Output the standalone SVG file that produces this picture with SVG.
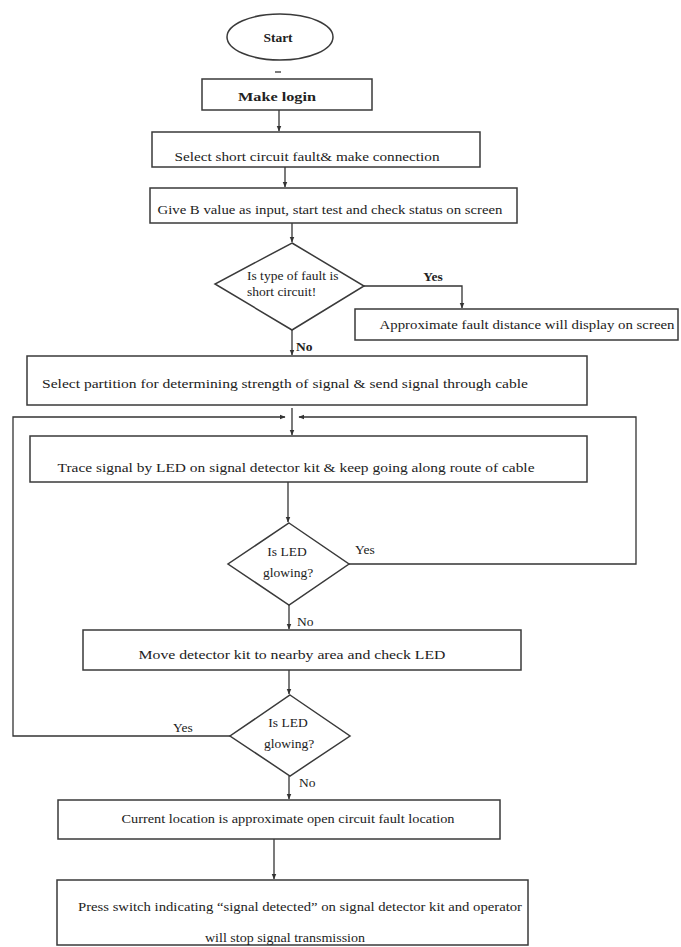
<svg xmlns="http://www.w3.org/2000/svg" width="681" height="947" viewBox="0 0 681 947">
<defs>
<style>
.n{fill:#fff;stroke:#3a3a3a;stroke-width:1.5}
.c{fill:none;stroke:#333;stroke-width:1.3}
.t{font-family:"Liberation Serif","Times New Roman",serif;fill:#222;font-size:13.5px}
.m{text-anchor:middle}
.b{font-weight:bold}
</style>
<marker id="ah" viewBox="0 0 10 10" refX="9" refY="5" markerWidth="6" markerHeight="6" orient="auto" markerUnits="userSpaceOnUse">
<path d="M0,1 L10,5 L0,9 z" fill="#333"/>
</marker>
</defs>
<rect width="681" height="947" fill="#fff"/>
<g id="connectors">
<path class="c" d="M275 72 H281"/>
<path class="c" d="M279 110 V131" marker-end="url(#ah)"/>
<path class="c" d="M285 167 V187" marker-end="url(#ah)"/>
<path class="c" d="M292 223 V242" marker-end="url(#ah)"/>
<path class="c" d="M364 286 H462 V308" marker-end="url(#ah)"/>
<path class="c" d="M292 330 V355" marker-end="url(#ah)"/>
<path class="c" d="M292 408 V435" marker-end="url(#ah)" stroke-width="1"/>
<path class="c" d="M230 736 H13 V417 H285" marker-end="url(#ah)" stroke-width="1.6"/>
<path class="c" d="M349 564 H636 V417 H299" marker-end="url(#ah)" stroke-width="1.6"/>
<path class="c" d="M288 482 V522" marker-end="url(#ah)"/>
<path class="c" d="M289 605 V629" marker-end="url(#ah)"/>
<path class="c" d="M289 670 V694" marker-end="url(#ah)"/>
<path class="c" d="M289 776 V799" marker-end="url(#ah)"/>
<path class="c" d="M274 839 V879" marker-end="url(#ah)" stroke-width="2"/>
<text class="t b" x="433" y="281" font-size="12" text-anchor="middle">Yes</text>
<text class="t b" x="296" y="351" font-size="11">No</text>
<text class="t" x="355" y="554" font-size="12">Yes</text>
<text class="t" x="297" y="626" font-size="12">No</text>
<text class="t" x="173" y="732" font-size="12">Yes</text>
<text class="t" x="299" y="787" font-size="12">No</text>
</g>
<g id="start">
<ellipse class="n" cx="280" cy="37" rx="53" ry="23"/>
<text class="t m b" x="278" y="42" font-size="15">Start</text>
</g>
<g id="login">
<rect class="n" x="202" y="79" width="170" height="31"/>
<text class="t m b" x="277" y="101" font-size="17" textLength="78" lengthAdjust="spacingAndGlyphs">Make login</text>
</g>
<g id="select">
<rect class="n" x="152" y="132" width="328" height="35"/>
<text class="t m" x="307" y="161" textLength="265" lengthAdjust="spacingAndGlyphs">Select short circuit fault&amp; make connection</text>
</g>
<g id="give">
<rect class="n" x="150" y="188" width="367" height="35"/>
<text class="t m" x="330" y="214" textLength="345" lengthAdjust="spacingAndGlyphs">Give B value as input, start test and check status on screen</text>
</g>
<g id="decision1">
<polygon class="n" points="292,243 364,286 292,330 215,284"/>
<text class="t" x="247" y="280" font-size="12.5">Is type of fault is</text>
<text class="t" x="247" y="296" font-size="12.5">short circuit!</text>
</g>
<g id="approx">
<rect class="n" x="355" y="309" width="323" height="31"/>
<text class="t m" x="527" y="329" textLength="295" lengthAdjust="spacingAndGlyphs">Approximate fault distance will display on screen</text>
</g>
<g id="partition">
<rect class="n" x="27" y="356" width="560" height="49"/>
<text class="t m" x="285" y="388" textLength="486" lengthAdjust="spacingAndGlyphs">Select partition for determining strength of signal &amp; send signal through cable</text>
</g>
<g id="trace">
<rect class="n" x="30" y="436" width="557" height="46"/>
<text class="t m" x="296" y="472" textLength="477" lengthAdjust="spacingAndGlyphs">Trace signal by LED on signal detector kit &amp; keep going along route of cable</text>
</g>
<g id="decision2">
<polygon class="n" points="289,523 349,564 289,605 228,564"/>
<text class="t m" x="287" y="556" font-size="12.5">Is LED</text>
<text class="t m" x="288" y="577" font-size="12.5">glowing?</text>
</g>
<g id="move">
<rect class="n" x="83" y="630" width="438" height="40"/>
<text class="t m" x="292" y="659" textLength="307" lengthAdjust="spacingAndGlyphs">Move detector kit to nearby area and check LED</text>
</g>
<g id="decision3">
<polygon class="n" points="290,695 350,736 290,776 230,736"/>
<text class="t m" x="288" y="727" font-size="12.5">Is LED</text>
<text class="t m" x="289" y="748" font-size="12.5">glowing?</text>
</g>
<g id="current">
<rect class="n" x="58" y="800" width="442" height="39"/>
<text class="t m" x="288" y="823" textLength="333" lengthAdjust="spacingAndGlyphs">Current location is approximate open circuit fault location</text>
</g>
<g id="press">
<rect class="n" x="57" y="880" width="471" height="65"/>
<text class="t m" x="300" y="911" textLength="444" lengthAdjust="spacingAndGlyphs">Press switch indicating “signal detected” on signal detector kit and operator</text>
<text class="t m" x="285" y="942" textLength="160" lengthAdjust="spacingAndGlyphs">will stop signal transmission</text>
</g>
</svg>
